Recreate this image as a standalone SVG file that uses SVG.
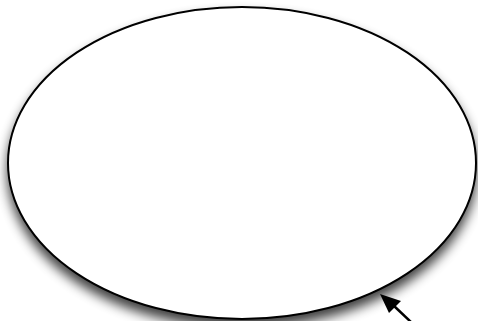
<svg xmlns="http://www.w3.org/2000/svg" width="478" height="321" viewBox="0 0 478 321">
<defs>
<filter id="sh" x="-10%" y="-10%" width="130%" height="130%">
<feGaussianBlur in="SourceAlpha" stdDeviation="6"/>
<feOffset dx="0" dy="8" result="b"/>
<feComponentTransfer><feFuncA type="linear" slope="0.75"/></feComponentTransfer>
<feMerge><feMergeNode/><feMergeNode in="SourceGraphic"/></feMerge>
</filter>
</defs>
<style>.node{fill:#fff;stroke:#000;stroke-width:2}.edge{stroke:#000;stroke-width:2.5;fill:none}</style>
<g id="ellipse1">
<ellipse class="node" cx="242" cy="163" rx="234" ry="156" filter="url(#sh)"/>
</g>
<g id="connectors">
<line x1="412" y1="323" x2="393" y2="305" class="edge"/>
<path d="M380,294 L401,301 L389,313 Z" fill="#000"/>
</g>
</svg>
